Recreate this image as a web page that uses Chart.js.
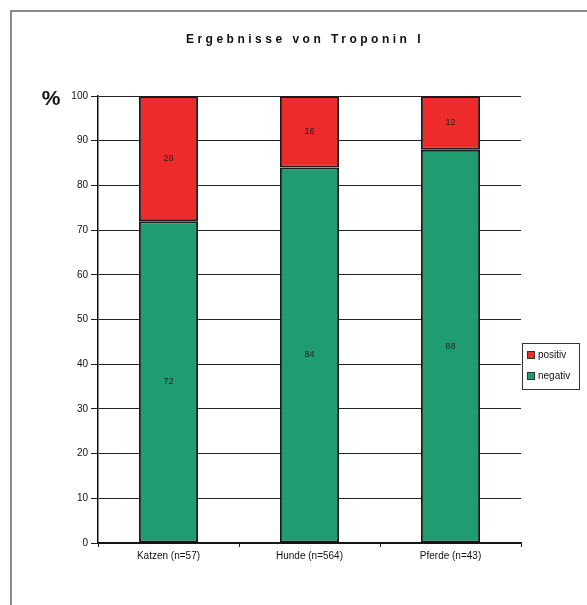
<!DOCTYPE html>
<html>
<head>
<meta charset="utf-8">
<script src="https://cdn.jsdelivr.net/npm/chart.js@4"></script>
<style>
  html, body { margin: 0; padding: 0; background: #fff; }
  #wrap { position: relative; width: 587px; height: 605px; overflow: hidden; }
  #frame { position: absolute; left: 10px; top: 10px; width: 600px; height: 620px; border: 2px solid #8a8a8a; box-sizing: border-box; }
  canvas { position: absolute; left: 0; top: 0; }
</style>
</head>
<body>
<div id="wrap">
  <div id="frame"></div>
  <canvas id="myChart" width="587" height="605"></canvas>
</div>
<script>
let categories = ['Katzen (n=57)', 'Hunde (n=564)', 'Pferde (n=43)'];
let negativValues = [72, 84, 88];
let positivValues = [28, 16, 12];
let seriesNames = ['negativ', 'positiv'];
let seriesColors = ['#1f9c70', '#ee2b2b'];
let chartTitle = 'Ergebnisse von Troponin I';
let yTickStep = 10;

const fontFam = '"Liberation Sans", Arial, sans-serif';

// draws title, % sign, segment values and the boxed legend
const extras = {
    id: 'extras',
    afterDatasetsDraw(chart) {
        let c = chart.ctx;
        c.save();
        c.fillStyle = '#222';
        c.font = '9px ' + fontFam;
        c.textAlign = 'center';
        c.textBaseline = 'middle';
        chart.data.datasets.forEach((ds, i) => {
            let meta = chart.getDatasetMeta(i);
            meta.data.forEach((bar, j) => {
                c.fillText(ds.data[j], bar.x, (bar.y + bar.base) / 2);
            });
        });
        c.restore();
    },
    afterDraw(chart) {
        let c = chart.ctx;
        c.save();
        c.fillStyle = '#111';
        c.textBaseline = 'middle';
        c.textAlign = 'center';
        c.font = 'bold 12px ' + fontFam;
        c.letterSpacing = '3.5px';
        c.fillText(chartTitle, 305, 40);
        c.letterSpacing = '0px';
        c.font = 'bold 21px ' + fontFam;
        c.fillText('%', 51, 99);

        // legend
        c.fillStyle = '#fff';
        c.fillRect(522.5, 343.5, 57, 46);
        c.strokeStyle = '#333';
        c.lineWidth = 1;
        c.strokeRect(522.5, 343.5, 57, 46);
        let order = [1, 0];
        c.font = '10px ' + fontFam;
        c.textAlign = 'left';
        order.forEach((di, k) => {
            let ds = chart.data.datasets[di];
            let y = 355 + k * 21;
            c.fillStyle = ds.backgroundColor;
            c.fillRect(527.5, y - 3.5, 7, 7);
            c.strokeStyle = '#333';
            c.strokeRect(527.5, y - 3.5, 7, 7);
            c.fillStyle = '#111';
            c.fillText(ds.label, 538, y);
        });
        c.restore();
    }
};

let ctx = document.getElementById('myChart').getContext('2d');
let myChart = new Chart(ctx, {
    type: 'bar',
    data: {
        labels: categories,
        datasets: [{
            label: seriesNames[0],
            data: negativValues,
            backgroundColor: seriesColors[0],
            borderColor: '#1a1a1a',
            borderWidth: 2,
            borderSkipped: false
        }, {
            label: seriesNames[1],
            data: positivValues,
            backgroundColor: seriesColors[1],
            borderColor: '#1a1a1a',
            borderWidth: 2,
            borderSkipped: false
        }]
    },
    options: {
        responsive: false,
        animation: false,
        layout: { padding: { top: 96, right: 66, left: 0, bottom: 0 } },
        datasets: { bar: { categoryPercentage: 1, barPercentage: 0.42 } },
        plugins: {
            legend: { display: false },
            title: { display: false },
            tooltip: { enabled: false }
        },
        scales: {
            x: {
                stacked: true,
                afterFit: (s) => { s.height = 62; },
                grid: { display: true, drawOnChartArea: false, offset: true, tickLength: 4, color: '#222' },
                border: { display: true, color: '#111', width: 1.5 },
                ticks: { color: '#111', padding: 3, font: { family: fontFam, size: 10 } }
            },
            y: {
                stacked: true,
                min: 0,
                max: 100,
                afterFit: (s) => { s.width = 98; },
                grid: { color: '#222', lineWidth: 1, tickLength: 7 },
                border: { display: true, color: '#111', width: 1.5 },
                ticks: { stepSize: yTickStep, color: '#111', padding: 3, font: { family: fontFam, size: 10 } }
            }
        }
    },
    plugins: [extras]
});
</script>
</body>
</html>
